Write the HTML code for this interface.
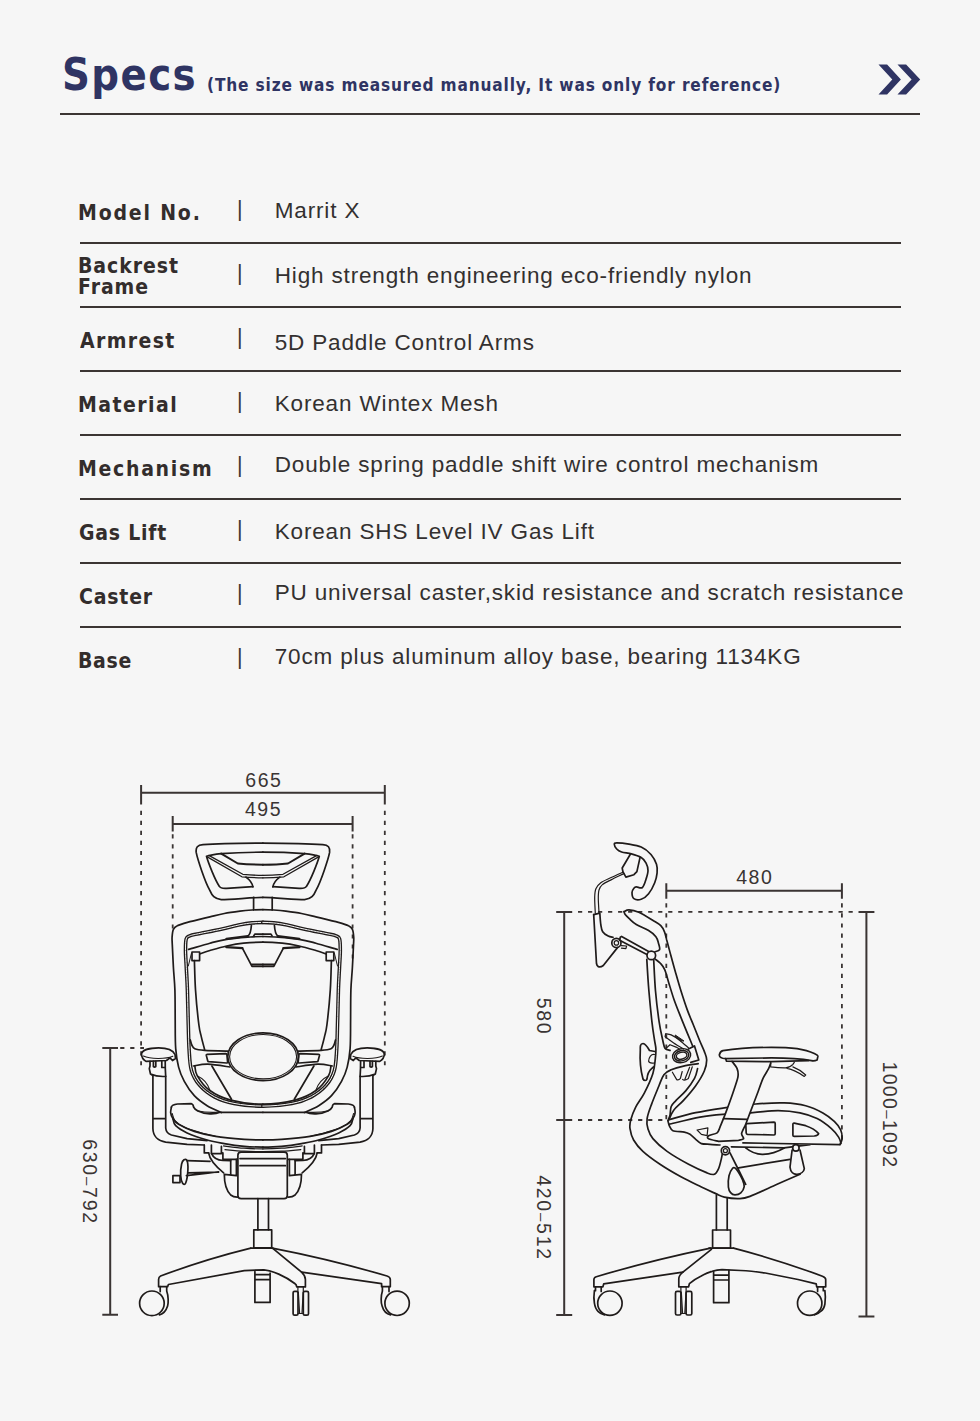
<!DOCTYPE html>
<html lang="en">
<head>
<meta charset="utf-8">
<title>Specs</title>
<style>
html,body{margin:0;padding:0;}
body{width:980px;height:1421px;background:#f6f6f6;position:relative;overflow:hidden;font-family:"Liberation Sans",sans-serif;color:#2e2a29;}
.abs{position:absolute;white-space:nowrap;line-height:1;}
#title{left:62px;top:52.5px;font-family:"DejaVu Sans","Liberation Sans",sans-serif;font-weight:bold;font-size:44.6px;color:#2f3463;letter-spacing:1.6px;transform:scaleX(.87);transform-origin:0 0;}
#sub{left:207px;top:76.6px;font-family:"DejaVu Sans","Liberation Sans",sans-serif;font-weight:bold;font-size:17.5px;color:#2f3463;letter-spacing:0.96px;transform:scaleX(.88);transform-origin:0 0;}
.hr{position:absolute;left:80px;width:821px;height:2px;background:#3b3533;}
#hline{position:absolute;left:60px;width:860.3px;top:113.2px;height:1.9px;background:#3b3533;}
.lab{font-family:"DejaVu Sans","Liberation Sans",sans-serif;font-weight:bold;font-size:21.5px;left:78px;color:#332d2c;transform:scaleX(.88);transform-origin:0 0;}
.val{font-size:22.5px;left:274.7px;letter-spacing:0.85px;color:#333030;}
.sep{position:absolute;left:237px;font-size:21.4px;line-height:1;color:#3b3533;}
</style>
</head>
<body>
<div id="title" class="abs">Specs</div>
<div id="sub" class="abs">(The size was measured manually, It was only for reference)</div>
<svg class="abs" style="left:870px;top:56px" width="60" height="48" viewBox="870 56 60 48"><path d="M878.5 64.5h8.6l13.8 15-13.8 15h-8.6l13.8-15zM897.5 64.5h8.6l14.1 15-14.1 15h-8.6l14.1-15z" fill="#2f3463"/></svg>
<div id="hline"></div>

<div class="abs lab" style="top:201.61px;letter-spacing:2.07px">Model No.</div>
<div class="sep" style="top:199.1px">|</div>
<div class="abs val" style="top:199.55px">Marrit X</div>
<div class="hr" style="top:241.9px"></div>

<div class="abs lab" style="top:254.81px;letter-spacing:1.05px;line-height:21.8px;margin-top:-0.15px">Backrest<br>Frame</div>
<div class="sep" style="top:263.1px">|</div>
<div class="abs val" style="top:265.35px">High strength engineering eco-friendly nylon</div>
<div class="hr" style="top:305.9px"></div>

<div class="abs lab" style="top:329.61px;letter-spacing:1.55px;margin-left:2px">Armrest</div>
<div class="sep" style="top:327.1px">|</div>
<div class="abs val" style="top:332.35px">5D Paddle Control Arms</div>
<div class="hr" style="top:369.9px"></div>

<div class="abs lab" style="top:393.61px;letter-spacing:1.65px">Material</div>
<div class="sep" style="top:391.1px">|</div>
<div class="abs val" style="top:393.45px">Korean Wintex Mesh</div>
<div class="hr" style="top:433.9px"></div>

<div class="abs lab" style="top:457.61px;letter-spacing:1.93px">Mechanism</div>
<div class="sep" style="top:455.1px">|</div>
<div class="abs val" style="top:454.45px">Double spring paddle shift wire control mechanism</div>
<div class="hr" style="top:497.9px"></div>

<div class="abs lab" style="top:521.61px;letter-spacing:0.85px;margin-left:1px">Gas Lift</div>
<div class="sep" style="top:519.1px">|</div>
<div class="abs val" style="top:521.35px">Korean SHS Level IV Gas Lift</div>
<div class="hr" style="top:561.9px"></div>

<div class="abs lab" style="top:585.61px;letter-spacing:0.92px;margin-left:1.2px">Caster</div>
<div class="sep" style="top:583.1px">|</div>
<div class="abs val" style="top:582.45px">PU universal caster,skid resistance and scratch resistance</div>
<div class="hr" style="top:625.9px"></div>

<div class="abs lab" style="top:649.61px;letter-spacing:0.80px">Base</div>
<div class="sep" style="top:647.1px">|</div>
<div class="abs val" style="top:646.45px">70cm plus aluminum alloy base, bearing 1134KG</div>

<svg id="draw" class="abs" style="left:0;top:740px" width="980" height="640" viewBox="0 740 980 640" fill="none" stroke="#1f1b1a" stroke-width="1.7" stroke-linecap="round" stroke-linejoin="round">
<g id="dims" stroke="#3a3433" stroke-width="2" stroke-linecap="butt">
<path d="M141 792.8H384.8M141.1 784.9V804.6M384.8 784.9V804.6M172.7 824H352.6M172.7 816.1V831.4M352.6 816.1V831.4"/>
<path d="M110.2 1048V1314.8M102.3 1048H118M102.3 1314.8H118"/>
<path d="M564.2 912V1315M556.2 911.9H572.2M556.2 1120H572.2M556.2 1315H572.2"/>
<path d="M866.4 912V1316.4M858.5 911.9H874.4M858.5 1316.4H874.4"/>
<path d="M666.3 890.7H841.9M666.3 883.3V898.7M841.9 883.3V898.7"/>
<g stroke-width="1.8" stroke-dasharray="4.2 5.82">
<path d="M141.1 810.8V1065.2M384.8 810.8V1065.2M172.7 834.2V928.6M352.6 834.2V958.6"/>
<path d="M120.2 1048H144"/>
<path d="M578 911.9H858M578 1120H668"/>
<path stroke-dasharray="4.2 5.89" d="M666.3 903.2V1120M841.9 903.2V1139.6"/>
</g>
</g>
<g id="dimtext" stroke="none" fill="#3a3433" font-family="Liberation Sans, sans-serif" font-size="19.5" letter-spacing="1.6" text-anchor="middle">
<text x="263.9" y="786.6">665</text>
<text x="263.6" y="816">495</text>
<text x="754.8" y="883.5">480</text>
<text transform="translate(83 1182) rotate(90)" letter-spacing="1.75">630<tspan font-size="15">–</tspan>792</text>
<text transform="translate(536.5 1016.5) rotate(90)">580</text>
<text transform="translate(536.5 1218) rotate(90)" letter-spacing="1.75">420<tspan font-size="15">–</tspan>512</text>
<text transform="translate(882.5 1115) rotate(90)" letter-spacing="1.3">1000<tspan font-size="15">–</tspan>1092</text>
</g>
<g id="front">
<g>
<path d="M263 843.1C245 843.2 215 843.8 203 844.6C197.5 845 195.6 847.5 196.2 852.4C197.5 859 205 882 209.7 890.1C212 895.5 214.5 899.2 221.2 899.6C232 899.6 250 897.6 263 897.4"/>
<path d="M263 852.2C250 852.2 230 853 221.2 853.6C215 854.2 210 855 206.5 856.3C208 862 215 880 219.4 886.4C220.5 888.2 222 888.6 226.7 888.3L252.9 886.7"/>
<path d="M206.8 856.6L241.9 876.8C250 877.6 256 877.8 263 877.8M208.8 855.4L242.8 874.3C250 875 256 875.4 263 875.4" stroke-width="1.3"/>
<path d="M221.2 853.6L237.8 863.5C246 864.4 255 864.7 263 864.7" stroke-width="2"/>
<path d="M246 877.1C250 880 252.3 883 252.9 886.9M253.6 897.4V909.9"/>
<path d="M263 909.6C259.4 909.6 255.8 909.7 252 910C248.2 910.3 244.6 910.6 240 911.2C235.4 911.8 229.3 912.6 224.3 913.5C219.3 914.4 216.1 915.3 209.9 916.8C203.8 918.3 192.8 920.9 187.4 922.4C182 923.9 179.6 924.6 177.3 925.8C175 926.9 174.3 927.4 173.4 929.3C172.5 931.2 172.3 934.4 172.1 937C171.9 939.6 172.1 939.9 172.3 944.9C172.5 949.9 173 959.8 173.4 967.3C173.8 974.8 174.6 981 174.9 989.8C175.2 998.6 175.1 1010.2 175.2 1020C175.3 1029.8 175.1 1040.8 175.7 1048.6C176.3 1056.4 177.2 1061.6 178.6 1067.1C180 1072.6 181.7 1076.6 184.3 1081.4C186.9 1086.2 190.5 1091.7 194.3 1095.7C198.1 1099.8 202.6 1102.9 207.1 1105.7C211.6 1108.5 219 1111.4 221.4 1112.5"/>
<path d="M263 922.4C259.4 922.4 255.8 922.5 252 922.9C248.2 923.3 245.2 923.7 240 924.7C234.8 925.8 228 927.7 221.1 929.2C214.2 930.7 203.9 932.6 198.7 933.7C193.5 934.8 191.8 935 189.7 935.9C187.6 936.8 186.9 936.6 186.2 939C185.5 941.4 185.5 945.8 185.5 950.5C185.5 955.2 186 960.8 186.3 967.3C186.6 973.8 187.1 980.2 187.4 989.8C187.7 999.4 188 1015 188.3 1025C188.6 1035 188.6 1041.9 189.1 1049.5C189.6 1057.1 189.7 1064.7 191.5 1070.7C193.3 1076.7 195.9 1081.1 199.7 1085.4C203.5 1089.8 208.7 1093.8 214.4 1096.8C220.1 1099.8 225.9 1101.9 234 1103.4C242.1 1105 253.4 1106.1 263 1106.1" stroke-width="3.6"/>
<path d="M263 922.4C259.4 922.4 255.8 922.5 252 922.9C248.2 923.3 245.2 923.7 240 924.7C234.8 925.8 228 927.7 221.1 929.2C214.2 930.7 203.9 932.6 198.7 933.7C193.5 934.8 191.8 935 189.7 935.9C187.6 936.8 186.9 936.6 186.2 939C185.5 941.4 185.5 945.8 185.5 950.5C185.5 955.2 186 960.8 186.3 967.3C186.6 973.8 187.1 980.2 187.4 989.8C187.7 999.4 188 1015 188.3 1025C188.6 1035 188.6 1041.9 189.1 1049.5C189.6 1057.1 189.7 1064.7 191.5 1070.7C193.3 1076.7 195.9 1081.1 199.7 1085.4C203.5 1089.8 208.7 1093.8 214.4 1096.8C220.1 1099.8 225.9 1101.9 234 1103.4C242.1 1105 253.4 1106.1 263 1106.1" stroke-width="1.0" stroke="#f6f6f6"/>
<path d="M188.6 949.4C192.2 948.4 203.6 944.9 209.9 943.2C216.2 941.5 220 940.3 226.7 939.3C233.4 938.3 244.2 937.5 250.3 937C256.4 936.5 258.8 936.5 263 936.5"/>
<path d="M199.8 953.9C201.5 953.3 205.4 951.8 209.9 950.5C214.4 949.2 221.1 947.2 226.7 946C232.3 944.8 237.5 943.8 243.6 943.2C249.7 942.6 256.6 942.2 263 942.2"/>
<rect x="192" y="952" width="7.6" height="8.6"/>
<path d="M194.4 960.6C194.6 965.5 194.8 979.1 195.5 989.8C196.2 1000.5 197.9 1017.1 198.9 1025C199.9 1032.9 200.5 1033 201.4 1037.1C202.3 1041.2 204.1 1047.4 204.6 1049.5"/>
<path d="M191.5 953L188.3 966" stroke-width="1"/>
<path d="M226.2 947.1L242.4 948.2" stroke-width="2.2"/>
<path d="M242.4 948.2L252 966.4H263M251 964.4H263"/>
<path d="M251.4 925.3C251 931 250 934.5 248.1 935.9M253.7 935.9L254.8 934.2H263"/>
<path d="M226.4 938.9L248 936" stroke-width="2.2"/>
<path d="M190.3 1040C190.6 1040.8 191.1 1043.5 191.8 1045C192.6 1046.5 192.7 1047.8 194.8 1048.7C196.9 1049.6 199.1 1049.9 204.6 1050.3C210.1 1050.7 223.8 1051 227.7 1051.1"/>
<path d="M193.5 1066C195.9 1065.7 201.8 1064 207.9 1064.2C214 1064.4 226.2 1066.5 229.8 1067"/>
<path d="M207 1054.4L225.8 1053.6Q226.8 1053.6 226.9 1054.6L227.6 1062Q227.7 1063 226.6 1063L208.8 1061.7Q207.9 1061.6 207.7 1060.7L206.3 1055.4Q206.1 1054.4 207 1054.4Z"/>
<path d="M211.9 1066L231.5 1099.3"/>
<path d="M194.8 1065.8C195.2 1067.4 194.8 1071.5 197.2 1075.6C199.6 1079.7 203.9 1086.2 209.5 1090.3C215.1 1094.4 221.8 1097.8 230.7 1100.1C239.6 1102.4 252.3 1104.2 263 1104.2"/>
<path d="M197.5 1076C203 1078.5 208 1084 210 1090.5" stroke-width="1.1"/>
<path d="M141.5 1054C142 1050 150 1048 158.6 1047.9C167 1047.9 173 1050 175 1054.5L175.5 1058.5L172.5 1060.5L170 1057.8L166.5 1060.5L146 1061.4C143 1059.5 141.5 1057 141.5 1054Z"/>
<path d="M143.4 1056C150 1059.2 166 1059.2 172.8 1056.3" stroke-width="1.1"/>
<path d="M150 1061.4V1066L149.3 1068.6L150.5 1074L152.9 1075.5M165.2 1060.8L165.3 1068.6L165.7 1076.4M150.5 1074C155 1076 160 1076.8 165.7 1076.4M153.4 1061.4V1066.5Q154.6 1067.6 155.8 1066.5V1061.4M161.8 1061.2V1067.5H164.2"/>
<path d="M152.9 1075.5V1128.6C153 1136 158 1141 165.7 1142.1L187.1 1144.3L204.3 1145M165.7 1076.4V1128C166 1131.5 168.5 1134 171.4 1135L187.1 1138.6L207.1 1140.7M152.9 1118.6H165.7"/>
<path d="M263 1112.3H220.1C215 1114.6 205 1114.6 198 1111C195 1109.5 194 1108 193.6 1107.1C193.3 1105 192.5 1104 191.4 1103.7L177.5 1104C173.5 1104.5 171.6 1106 171.4 1107.1"/>
<path d="M171.4 1107.1C171.3 1108.1 170.4 1111 170.7 1112.9C170.9 1114.8 171.6 1116.7 172.9 1118.6C174.2 1120.5 175 1122.2 178.6 1124.3C182.2 1126.4 188.1 1129.4 194.3 1131.4C200.5 1133.4 207.4 1135.1 215.7 1136.4C224 1137.7 236.4 1138.7 244.3 1139.3C252.2 1139.9 256.8 1139.9 263 1139.9"/>
<path d="M172.9 1118.6C173.4 1119.8 173.3 1123.3 175.7 1125.7C178.1 1128.1 181.9 1130.5 187.1 1132.9C192.3 1135.3 200.9 1138.2 207.1 1140C213.3 1141.8 218.1 1142.5 224.3 1143.6C230.5 1144.7 237.9 1145.8 244.3 1146.4C250.8 1147 256.8 1147.1 263 1147.1"/>
<path d="M223.6 1145.9C227 1146.3 237.4 1147.7 244 1148.2C250.6 1148.7 256.7 1148.9 263 1148.9" stroke-width="1.2"/>
<path d="M225 1149.6C228.2 1149.9 237.7 1150.9 244 1151.2C250.3 1151.5 256.7 1151.6 263 1151.6" stroke-width="1.2"/>
<path d="M197.1 1110.7C203 1112 212 1112.6 218.6 1112.1" stroke-width="1.1"/>
<path d="M172.2 1113.5C172.7 1114.7 173 1118.2 175 1120.5C177 1122.8 179.8 1125 184 1127C188.2 1129 194.7 1130.9 200 1132.5C205.3 1134.1 213.1 1135.8 215.7 1136.4" stroke-width="1.1"/>
<path d="M204.3 1145V1152.9H208.6M211.4 1145V1153.6H221.4V1146.3M222.9 1152.9V1159.3H237.5"/>
<path d="M208.6 1152.9C209.5 1159 214 1165 223.6 1172.9M211.6 1153.6C213 1157 216.4 1160 222.9 1160.5L230.7 1160.7"/>
<path d="M230.7 1160.7V1174.3M236.4 1159.3V1175.7M224.3 1174.3L236.4 1175.7M224.3 1174.3C224.3 1182 225.7 1190 230.7 1195C233 1196.8 235.5 1197.2 237.7 1197.1"/>
</g>
<g transform="matrix(-1 0 0 1 525.8 0)">
<path d="M263 843.1C245 843.2 215 843.8 203 844.6C197.5 845 195.6 847.5 196.2 852.4C197.5 859 205 882 209.7 890.1C212 895.5 214.5 899.2 221.2 899.6C232 899.6 250 897.6 263 897.4"/>
<path d="M263 852.2C250 852.2 230 853 221.2 853.6C215 854.2 210 855 206.5 856.3C208 862 215 880 219.4 886.4C220.5 888.2 222 888.6 226.7 888.3L252.9 886.7"/>
<path d="M206.8 856.6L241.9 876.8C250 877.6 256 877.8 263 877.8M208.8 855.4L242.8 874.3C250 875 256 875.4 263 875.4" stroke-width="1.3"/>
<path d="M221.2 853.6L237.8 863.5C246 864.4 255 864.7 263 864.7" stroke-width="2"/>
<path d="M246 877.1C250 880 252.3 883 252.9 886.9M253.6 897.4V909.9"/>
<path d="M263 909.6C259.4 909.6 255.8 909.7 252 910C248.2 910.3 244.6 910.6 240 911.2C235.4 911.8 229.3 912.6 224.3 913.5C219.3 914.4 216.1 915.3 209.9 916.8C203.8 918.3 192.8 920.9 187.4 922.4C182 923.9 179.6 924.6 177.3 925.8C175 926.9 174.3 927.4 173.4 929.3C172.5 931.2 172.3 934.4 172.1 937C171.9 939.6 172.1 939.9 172.3 944.9C172.5 949.9 173 959.8 173.4 967.3C173.8 974.8 174.6 981 174.9 989.8C175.2 998.6 175.1 1010.2 175.2 1020C175.3 1029.8 175.1 1040.8 175.7 1048.6C176.3 1056.4 177.2 1061.6 178.6 1067.1C180 1072.6 181.7 1076.6 184.3 1081.4C186.9 1086.2 190.5 1091.7 194.3 1095.7C198.1 1099.8 202.6 1102.9 207.1 1105.7C211.6 1108.5 219 1111.4 221.4 1112.5"/>
<path d="M263 922.4C259.4 922.4 255.8 922.5 252 922.9C248.2 923.3 245.2 923.7 240 924.7C234.8 925.8 228 927.7 221.1 929.2C214.2 930.7 203.9 932.6 198.7 933.7C193.5 934.8 191.8 935 189.7 935.9C187.6 936.8 186.9 936.6 186.2 939C185.5 941.4 185.5 945.8 185.5 950.5C185.5 955.2 186 960.8 186.3 967.3C186.6 973.8 187.1 980.2 187.4 989.8C187.7 999.4 188 1015 188.3 1025C188.6 1035 188.6 1041.9 189.1 1049.5C189.6 1057.1 189.7 1064.7 191.5 1070.7C193.3 1076.7 195.9 1081.1 199.7 1085.4C203.5 1089.8 208.7 1093.8 214.4 1096.8C220.1 1099.8 225.9 1101.9 234 1103.4C242.1 1105 253.4 1106.1 263 1106.1" stroke-width="3.6"/>
<path d="M263 922.4C259.4 922.4 255.8 922.5 252 922.9C248.2 923.3 245.2 923.7 240 924.7C234.8 925.8 228 927.7 221.1 929.2C214.2 930.7 203.9 932.6 198.7 933.7C193.5 934.8 191.8 935 189.7 935.9C187.6 936.8 186.9 936.6 186.2 939C185.5 941.4 185.5 945.8 185.5 950.5C185.5 955.2 186 960.8 186.3 967.3C186.6 973.8 187.1 980.2 187.4 989.8C187.7 999.4 188 1015 188.3 1025C188.6 1035 188.6 1041.9 189.1 1049.5C189.6 1057.1 189.7 1064.7 191.5 1070.7C193.3 1076.7 195.9 1081.1 199.7 1085.4C203.5 1089.8 208.7 1093.8 214.4 1096.8C220.1 1099.8 225.9 1101.9 234 1103.4C242.1 1105 253.4 1106.1 263 1106.1" stroke-width="1.0" stroke="#f6f6f6"/>
<path d="M188.6 949.4C192.2 948.4 203.6 944.9 209.9 943.2C216.2 941.5 220 940.3 226.7 939.3C233.4 938.3 244.2 937.5 250.3 937C256.4 936.5 258.8 936.5 263 936.5"/>
<path d="M199.8 953.9C201.5 953.3 205.4 951.8 209.9 950.5C214.4 949.2 221.1 947.2 226.7 946C232.3 944.8 237.5 943.8 243.6 943.2C249.7 942.6 256.6 942.2 263 942.2"/>
<rect x="192" y="952" width="7.6" height="8.6"/>
<path d="M194.4 960.6C194.6 965.5 194.8 979.1 195.5 989.8C196.2 1000.5 197.9 1017.1 198.9 1025C199.9 1032.9 200.5 1033 201.4 1037.1C202.3 1041.2 204.1 1047.4 204.6 1049.5"/>
<path d="M191.5 953L188.3 966" stroke-width="1"/>
<path d="M226.2 947.1L242.4 948.2" stroke-width="2.2"/>
<path d="M242.4 948.2L252 966.4H263M251 964.4H263"/>
<path d="M251.4 925.3C251 931 250 934.5 248.1 935.9M253.7 935.9L254.8 934.2H263"/>
<path d="M226.4 938.9L248 936" stroke-width="2.2"/>
<path d="M190.3 1040C190.6 1040.8 191.1 1043.5 191.8 1045C192.6 1046.5 192.7 1047.8 194.8 1048.7C196.9 1049.6 199.1 1049.9 204.6 1050.3C210.1 1050.7 223.8 1051 227.7 1051.1"/>
<path d="M193.5 1066C195.9 1065.7 201.8 1064 207.9 1064.2C214 1064.4 226.2 1066.5 229.8 1067"/>
<path d="M207 1054.4L225.8 1053.6Q226.8 1053.6 226.9 1054.6L227.6 1062Q227.7 1063 226.6 1063L208.8 1061.7Q207.9 1061.6 207.7 1060.7L206.3 1055.4Q206.1 1054.4 207 1054.4Z"/>
<path d="M211.9 1066L231.5 1099.3"/>
<path d="M194.8 1065.8C195.2 1067.4 194.8 1071.5 197.2 1075.6C199.6 1079.7 203.9 1086.2 209.5 1090.3C215.1 1094.4 221.8 1097.8 230.7 1100.1C239.6 1102.4 252.3 1104.2 263 1104.2"/>
<path d="M197.5 1076C203 1078.5 208 1084 210 1090.5" stroke-width="1.1"/>
<path d="M141.5 1054C142 1050 150 1048 158.6 1047.9C167 1047.9 173 1050 175 1054.5L175.5 1058.5L172.5 1060.5L170 1057.8L166.5 1060.5L146 1061.4C143 1059.5 141.5 1057 141.5 1054Z"/>
<path d="M143.4 1056C150 1059.2 166 1059.2 172.8 1056.3" stroke-width="1.1"/>
<path d="M150 1061.4V1066L149.3 1068.6L150.5 1074L152.9 1075.5M165.2 1060.8L165.3 1068.6L165.7 1076.4M150.5 1074C155 1076 160 1076.8 165.7 1076.4M153.4 1061.4V1066.5Q154.6 1067.6 155.8 1066.5V1061.4M161.8 1061.2V1067.5H164.2"/>
<path d="M152.9 1075.5V1128.6C153 1136 158 1141 165.7 1142.1L187.1 1144.3L204.3 1145M165.7 1076.4V1128C166 1131.5 168.5 1134 171.4 1135L187.1 1138.6L207.1 1140.7M152.9 1118.6H165.7"/>
<path d="M263 1112.3H220.1C215 1114.6 205 1114.6 198 1111C195 1109.5 194 1108 193.6 1107.1C193.3 1105 192.5 1104 191.4 1103.7L177.5 1104C173.5 1104.5 171.6 1106 171.4 1107.1"/>
<path d="M171.4 1107.1C171.3 1108.1 170.4 1111 170.7 1112.9C170.9 1114.8 171.6 1116.7 172.9 1118.6C174.2 1120.5 175 1122.2 178.6 1124.3C182.2 1126.4 188.1 1129.4 194.3 1131.4C200.5 1133.4 207.4 1135.1 215.7 1136.4C224 1137.7 236.4 1138.7 244.3 1139.3C252.2 1139.9 256.8 1139.9 263 1139.9"/>
<path d="M172.9 1118.6C173.4 1119.8 173.3 1123.3 175.7 1125.7C178.1 1128.1 181.9 1130.5 187.1 1132.9C192.3 1135.3 200.9 1138.2 207.1 1140C213.3 1141.8 218.1 1142.5 224.3 1143.6C230.5 1144.7 237.9 1145.8 244.3 1146.4C250.8 1147 256.8 1147.1 263 1147.1"/>
<path d="M223.6 1145.9C227 1146.3 237.4 1147.7 244 1148.2C250.6 1148.7 256.7 1148.9 263 1148.9" stroke-width="1.2"/>
<path d="M225 1149.6C228.2 1149.9 237.7 1150.9 244 1151.2C250.3 1151.5 256.7 1151.6 263 1151.6" stroke-width="1.2"/>
<path d="M197.1 1110.7C203 1112 212 1112.6 218.6 1112.1" stroke-width="1.1"/>
<path d="M172.2 1113.5C172.7 1114.7 173 1118.2 175 1120.5C177 1122.8 179.8 1125 184 1127C188.2 1129 194.7 1130.9 200 1132.5C205.3 1134.1 213.1 1135.8 215.7 1136.4" stroke-width="1.1"/>
<path d="M204.3 1145V1152.9H208.6M211.4 1145V1153.6H221.4V1146.3M222.9 1152.9V1159.3H237.5"/>
<path d="M208.6 1152.9C209.5 1159 214 1165 223.6 1172.9M211.6 1153.6C213 1157 216.4 1160 222.9 1160.5L230.7 1160.7"/>
<path d="M230.7 1160.7V1174.3M236.4 1159.3V1175.7M224.3 1174.3L236.4 1175.7M224.3 1174.3C224.3 1182 225.7 1190 230.7 1195C233 1196.8 235.5 1197.2 237.7 1197.1"/>
</g>
<ellipse cx="263.1" cy="1056.7" rx="35.3" ry="23.9"/><ellipse cx="263.1" cy="1056.7" rx="33.5" ry="22.2" stroke-width="1.1"/>
<rect x="237.9" y="1152.1" width="49.4" height="46.5" rx="3.2" fill="#f6f6f6"/>
<path d="M240 1158.6H285.4M240 1165.7H285.4"/>
<path d="M257.9 1198.6V1229.8M268.5 1198.6V1229.8"/>
<rect x="253.8" y="1229.8" width="17.9" height="18"/>
<path d="M254.9 1271.6V1302.4H270.1V1273M254.9 1274.7H270.1M254.9 1279.6H270.1"/>
<path d="M250.8 1248.1H272.9"/>
<path d="M250.8 1248.1Q204.8 1259.4 160.6 1276C159 1276.8 158.6 1278 158.6 1279.5V1286.7H167.6L168.4 1284.5L244.3 1270.6L263.9 1269.8C272 1270.5 285 1276 295.1 1283.7C296.2 1284.5 296.6 1285.5 296.7 1286.9H305.4V1279.5C305.4 1276.5 304 1274.5 301.6 1272.2L273.1 1248.6"/>
<path d="M272.2 1248.1Q330.6 1259.4 387 1276C389.6 1276.8 390.3 1278 390.3 1279.5V1286.7H381.6V1283.7L301.6 1272.2"/>
<circle cx="151.9" cy="1303.3" r="12.3"/><circle cx="397.1" cy="1303.3" r="12.2"/>
<path d="M160.2 1286.7V1291.6M166.7 1286.7V1291C168.5 1296 168.5 1303 167.6 1306C166 1311 163 1314 159.4 1314.9"/>
<path d="M389 1286.7V1291.6M382.4 1286.7V1291C380.8 1296 380.8 1303 382.1 1306C383.5 1311 386.5 1314 390.6 1314.9"/>
<rect x="293.1" y="1291.3" width="4.9" height="23.9" rx="1.5"/><rect x="303.3" y="1291.3" width="5.2" height="23.9" rx="1.5"/>
<path d="M297.9 1287V1291.3M303.3 1287V1291.3M298.3 1292L299.6 1313.5M303.2 1292L302 1313.5M298 1313.5H303.3" stroke-width="1.2"/>
<path d="M184 1159.8C183.1 1160.4 182.2 1161.3 181.6 1164C181 1166.7 180.5 1172.5 180.7 1175.7C180.9 1178.9 181.8 1182.1 182.6 1183.3C183.4 1184.5 184.8 1185.2 185.7 1183C186.6 1180.8 187.7 1173.8 187.9 1170C188.1 1166.2 187.7 1162.2 187 1160.5C186.3 1158.8 184.9 1159.2 184 1159.8Z"/>
<path d="M187.1 1160.7L210 1161.4M186.4 1175.7L218.6 1171.8M187.8 1172.9L218.6 1172.1"/>
<rect x="172.9" y="1175.7" width="7.1" height="6.9"/>
</g>
<g id="side">
<path d="M614.3 844.3C614.3 843.3 614.2 842.9 616.7 842.9C619.2 842.9 624.9 843.4 629 844.1C633.1 844.8 637.5 845.4 641.2 847.1C644.9 848.8 648.5 851.6 651 854.5C653.5 857.4 655.5 861.2 656.5 864.3C657.5 867.4 657.4 869.8 657.1 872.9C656.8 876 656.1 879.2 654.7 882.7C653.3 886.2 650.9 891 648.6 893.7C646.4 896.5 643.7 898.4 641.2 899.2C638.8 900 635.4 899.7 633.9 898.6C632.4 897.5 632 894.1 632 892.4C632 890.7 633.2 889.1 633.9 888.2C634.6 887.3 634.9 887 636.3 886.9C637.7 886.8 640.8 888.8 642.4 887.5C644 886.2 645.2 881.9 646.1 879C647 876.1 648 873 648 870.4C648 867.8 647.2 865.2 646.1 863.1C645 861 643.7 859.1 641.2 857.6C638.8 856.1 634.7 854.8 631.4 853.9C628.1 853 624 852.8 621.6 852C619.2 851.2 617.9 850.3 616.7 849C615.5 847.7 614.3 845.3 614.3 844.3Z"/>
<path d="M630.2 854.5L622.2 868L622.9 871.6L625.9 877.1L633.9 874.7L636.9 871.6L640 857.6"/>
<path d="M622.9 872.2C620.9 873.1 614.3 876 610.6 877.8C606.9 879.5 603.2 880.9 600.8 882.7C598.3 884.5 596.9 886.4 595.9 888.8C594.9 891.2 594.8 893.2 594.7 897.3C594.6 901.4 595.2 910.6 595.3 913.3" stroke-width="1.2"/>
<path d="M623.8 873.6C621.8 874.6 615.1 877.8 611.5 879.6C607.9 881.4 604.5 882.9 602.4 884.6C600.3 886.3 599.7 887.7 599 890C598.3 892.3 598.3 894.9 598.3 898.6C598.3 902.4 598.9 910.2 599 912.5" stroke-width="1.2"/>
<path d="M593.7 914.7L599.8 913.2C600 915.1 600.3 921.4 600.8 924.5C601.3 927.6 601.5 929.9 602.7 931.8C603.9 933.7 606.5 935.2 608.2 936.1C609.9 937 612.2 937.1 613 937.3"/>
<path d="M617.5 947.6L603.3 965.5C601.5 966.8 599.8 967.2 598.4 966.7C597 965.7 596.6 964.8 596.5 963.7L593.7 914.7"/>
<circle cx="616.4" cy="942.9" r="4.6"/><circle cx="616.4" cy="942.9" r="2.2" stroke-width="1.2"/>
<path d="M621.4 945.7L626.6 946L625.9 948.6L621.5 948.2" stroke-width="1.2"/>
<path d="M620.3 937.2L621.6 936.4L648.6 951.4M619.6 940.2L646.9 954.6M620.3 937.2L619.6 940.2"/>
<path d="M624.1 911.6C624.9 911.3 626.5 909.7 629 909.8C631.5 909.9 634.7 910.4 638.8 912.2C642.9 914 649.8 918.5 653.5 920.8C657.2 923 659 923.9 660.8 925.7C662.6 927.5 663.5 929.4 664.5 931.8C665.5 934.2 665.7 936.1 666.7 940C667.8 943.9 669.3 949.7 670.8 955.3C672.3 960.9 674.2 967.8 675.9 973.7C677.6 979.7 679.1 985 681 991C682.9 997 685.1 1003.8 687.1 1009.4C689.1 1015 691.2 1019.6 693.3 1024.7C695.3 1029.8 697.6 1035.5 699.4 1040C701.2 1044.5 703.1 1048.1 704.3 1051.4C705.5 1054.7 706.7 1056.7 706.7 1060C706.7 1063.3 706.1 1066.7 704.3 1071C702.5 1075.3 699.2 1080.8 695.7 1085.7C692.2 1090.6 687.2 1096.3 683.5 1100.4C679.8 1104.5 676.2 1106.9 673.7 1110.2C671.2 1113.5 669.6 1118.4 668.8 1120"/>
<path d="M624.1 911.6C624.3 912.1 624.4 913.4 625.2 914.5C626 915.6 627.1 916.7 629 918.4C630.9 920.1 633 922.5 636.3 924.5C639.6 926.5 645.3 928.6 648.6 930.6C651.9 932.6 654.3 934.7 655.9 936.7C657.5 938.8 657.8 940.8 658.4 942.9C659 945 660.2 948.1 659.6 949.6C659 951.1 655.6 951.5 654.8 951.9"/>
<path d="M655 958.9C655.9 959.7 659 961.7 660.6 963.5C662.2 965.3 663.3 966.4 664.7 969.6C666.1 972.8 667.3 978 668.8 982.9C670.3 987.8 671.9 993.4 673.9 999.2C675.9 1005 678.3 1010.8 681 1017.6C683.7 1024.4 688.2 1035.2 690.2 1040C692.2 1044.8 692.4 1045.3 692.8 1046.4"/>
<path d="M697.6 1068.6C697.1 1070.2 696.5 1074.7 694.5 1078.4C692.5 1082.1 689 1086.9 685.9 1090.6C682.8 1094.3 678.5 1097.8 676.1 1100.4C673.7 1103.1 672.2 1104 671.2 1106.5C670.2 1109 670.5 1112.8 670 1115.1C669.5 1117.4 668.3 1119.6 668 1120.5"/>
<path d="M646.8 959.4C647.1 964.7 648 980.6 648.9 991C649.8 1001.4 651 1013.4 651.9 1021.6C652.8 1029.8 653.8 1035.4 654.5 1040C655.2 1044.6 655.8 1045.9 655.9 1049C656 1052.1 655.8 1054.7 655.3 1058.8C654.8 1062.9 654.7 1067.8 652.9 1073.5C651.1 1079.2 647.2 1087.5 644.3 1093.1C641.4 1098.7 638 1102.6 635.7 1107.1C633.4 1111.6 631.7 1116.4 630.7 1120C629.8 1123.6 629.5 1125.3 630 1128.6C630.5 1131.9 631.5 1136.2 633.6 1140C635.8 1143.8 638.5 1147.4 642.9 1151.4C647.3 1155.5 653.6 1160 660 1164.3C666.4 1168.6 674.5 1173.3 681.4 1177.1C688.3 1180.9 695.7 1184.3 701.4 1187.1C707.1 1189.8 711.9 1191.9 715.7 1193.6C719.5 1195.3 720.5 1196.3 724.3 1197.1C728.1 1197.9 734.3 1198.7 738.6 1198.6C742.9 1198.5 743.6 1198.8 750 1196.4C756.4 1194 768.8 1188 777.1 1184.3C785.4 1180.6 796.2 1176 800 1174.3"/>
<path d="M653.7 959.9C654 965.1 654.6 980.7 655.5 991C656.4 1001.3 657.9 1013.4 659.1 1021.6C660.3 1029.8 661.7 1035.5 662.7 1040C663.7 1044.5 663.9 1046.7 665.1 1048.4C666.3 1050.1 669.2 1050.1 670 1050.4"/>
<path d="M698.2 1063.7C695.8 1064.1 688 1065.1 683.5 1066.1C679 1067.1 674.5 1068.4 671.2 1069.8C667.9 1071.2 665.9 1072 663.9 1074.7C661.9 1077.4 661 1080.8 659 1085.7C657 1090.6 653.6 1098.6 651.6 1104.1C649.6 1109.6 647.7 1114.5 647.1 1118.6C646.5 1122.7 646.9 1125.3 647.9 1128.6C648.9 1131.9 649.7 1134.8 652.9 1138.6C656.1 1142.4 661.1 1147.1 667.1 1151.4C673.1 1155.7 681.9 1160.7 688.6 1164.3C695.3 1167.9 702.8 1171.2 707.1 1172.9C711.4 1174.6 712.4 1175 714.3 1174.3C716.2 1173.6 717.4 1171.2 718.6 1168.6C719.8 1166 720.8 1161 721.4 1158.6C722 1156.2 722.1 1154.8 722.3 1154"/>
<circle cx="651.3" cy="955.4" r="4.3" fill="#f6f6f6"/>
<path d="M655 1051.5L649.5 1050.5C647.5 1047 646 1044 643 1043.5C640 1043.5 640.2 1047 640.3 1050C639.8 1058 640.5 1070 643 1079C644 1081 646.5 1081 647 1079C647.3 1075 648 1071.5 651.6 1068.6L653.5 1067"/>
<path d="M654.5 1054.5C651 1054 649 1057 648.6 1061.2C649 1063.5 651 1063.5 654.3 1063" stroke-width="1.2"/>
<path d="M688.4 1049L694.5 1045.9L698.8 1060L690.8 1062.4"/>
<g transform="rotate(-14 681.6 1055.7)" stroke-width="1.45"><ellipse cx="681.6" cy="1055.7" rx="9.2" ry="6.9" fill="#f6f6f6"/><ellipse cx="681.6" cy="1055.7" rx="7.3" ry="5.1"/><ellipse cx="681.6" cy="1055.7" rx="5.4" ry="3.4"/></g>
<path d="M665.7 1033.7C666.6 1033.9 668.9 1033.8 671.2 1034.9C673.6 1036 676.9 1038.2 679.8 1040.4C682.7 1042.6 687 1046.6 688.4 1047.8M665.1 1036.7C666.5 1037.7 670.6 1040.9 673.7 1042.9C676.8 1045 681.9 1048 683.5 1049M665.7 1033.7L665.1 1036.7" stroke-width="1.2"/>
<path d="M675.5 1035.2L684 1041L680.5 1040.8L675.8 1037.2Z" fill="#2a2625" stroke-width="1"/>
<path d="M665.7 1048.6L670 1044.7L676.1 1047.1L679 1048.8" stroke-width="1.2"/>
<path d="M672.4 1072.2L676.7 1079.6Q678.7 1080.6 680.4 1078.4L682.2 1071.5M682.6 1079.4Q684.5 1081.2 688.4 1078.4L692.3 1066.8M685 1079L689.6 1067.2" stroke-width="1.2"/>
<path d="M670 1119.4C674.3 1118.3 686.7 1114.6 695.7 1112.7C704.8 1110.8 714.3 1109.4 724.3 1107.9C734.3 1106.5 745.7 1104.8 755.7 1104C765.7 1103.2 776 1102.6 784.3 1102.9C792.6 1103.2 799.3 1104 805.7 1105.7C812.1 1107.4 818.1 1110.3 822.9 1112.9C827.7 1115.5 831.3 1118.6 834.3 1121.4C837.3 1124.2 839.4 1127.1 840.7 1130C842 1132.9 842.2 1136.2 842.1 1138.6C842 1141 840.4 1143.4 840 1144.4"/>
<path d="M669 1124.3C674.2 1123.1 691 1118.8 700 1117.1C709 1115.4 714.1 1115 722.9 1114.3C731.7 1113.5 743.7 1113.2 752.9 1112.6C762.1 1112 770.1 1110.7 778 1110.7C785.9 1110.8 793.5 1111.6 800 1112.9C806.5 1114.2 811.9 1116 817.1 1118.6C822.3 1121.2 827.8 1125.5 831.4 1128.6C835 1131.7 837 1134.6 838.6 1137.1C840.2 1139.6 840.6 1142.4 841 1143.5"/>
<path d="M742.9 1142.9L840 1144.6M731.4 1146.8L784 1147.9L810 1144.6"/>
<path d="M747 1123.6L774 1122.2Q775.2 1122.2 775.2 1123.4V1133.8Q775.2 1135 774 1135L747.5 1134.3Q746.3 1134.2 746.2 1133L745.8 1124.8Q745.8 1123.7 747 1123.6Z"/>
<path d="M792.9 1124.2Q792.9 1123 794.2 1123.2L805.7 1125.7C811 1127.5 816 1130.5 818.6 1133.6Q818.2 1135.6 814.3 1136L794.2 1136.4Q792.9 1136.4 792.9 1135.2Z"/>
<path d="M667.9 1120.7C668.1 1121.3 668.7 1124.5 669.3 1125.7C669.9 1126.9 671.1 1130 672.9 1130.7C674.6 1131.4 682.3 1131.7 684.3 1132.1C686.3 1132.5 688.7 1133.5 690 1134.3C691.3 1135.1 694.4 1138.2 695.7 1139.3C697 1140.4 699.7 1143 701.4 1143.6C703.1 1144.2 707.8 1144.1 710 1144.3C712.2 1144.5 718.8 1144.9 720 1145"/>
<path d="M697.1 1130L707.9 1127.9L707.1 1135.7L701.4 1134.3Z" stroke-width="1.2"/>
<path d="M732.1 1061.4C732.8 1062.4 736.3 1066.5 737.1 1068.6C737.9 1070.7 738.5 1073.9 737.9 1077.1C737.3 1080.3 734.5 1088.1 732.9 1092.9C731.3 1097.7 727.4 1108.3 725.7 1112.9C724 1117.5 721.1 1124.4 720 1127.1C718.9 1129.8 718.6 1131.8 717.1 1132.9C715.6 1134 709.8 1134.9 708.6 1135.7C707.4 1136.5 707 1137.8 708.3 1138.6C709.6 1139.4 717.2 1141 718.6 1141.4L738.6 1140.3C739.3 1140.1 743.2 1139.5 743.6 1138.6C744 1137.7 741.3 1135.4 741.6 1133.5C741.9 1131.6 744.6 1127 745.7 1124.3C746.8 1121.6 748.5 1116.9 750 1112.9C751.5 1108.9 755.4 1098.9 757.1 1094.3C758.8 1089.7 761.4 1082 762.9 1078.6C764.4 1075.2 767.6 1070.7 768.6 1068.6C769.6 1066.5 770.4 1063.7 770.7 1063" fill="#f6f6f6"/>
<path d="M723.6 1118.6L747.1 1119.3"/>
<path d="M719.3 1055C720 1052 721.5 1051 722.9 1050.7C735 1048.8 755 1047.4 771.4 1047.4C782 1047.4 792 1048 797.1 1048.6C806 1050 812 1052.5 814.3 1053.6C816.5 1054.6 818 1055.5 817.9 1056.4L817.1 1060C815 1061 813 1061 811.4 1060.7C800 1058.5 785 1057.9 771.4 1057.9L725.7 1058.6C722 1058.6 719.5 1057.5 719.3 1055Z" fill="#f6f6f6"/>
<path d="M725.7 1058.6L726.4 1061.1L771.4 1061.7L808.6 1060.7"/>
<path d="M770.7 1062.1V1066.9C776 1067.6 781 1068 785.7 1067.9C789 1067.2 791.5 1066 792.9 1064.3L794.3 1062.3M787.1 1068.3C791 1069 797.1 1071.4 804.3 1076.4L805.7 1075C802 1071.5 797 1068.5 792.9 1066.9" stroke-width="1.2"/>
<circle cx="725.4" cy="1150.7" r="4.1" fill="#f6f6f6"/><circle cx="725.4" cy="1150.7" r="2" stroke-width="1.2"/>
<path d="M745.7 1147.9C752 1153 757 1154.5 762.9 1154.3C770 1154 778 1151.5 784.3 1147.9M738.6 1167.9L790 1159.3M730 1152.9L738.6 1170L745.7 1184.3"/>
<path d="M732.6 1168.2C731.5 1169.5 729.7 1172.6 729 1175.7C728.3 1178.8 728.1 1184.3 728.4 1187.1C728.7 1189.9 729.5 1191.3 730.6 1192.6C731.7 1193.9 733.3 1194.8 735 1194.8C736.7 1194.8 739.3 1194.2 740.8 1192.8C742.3 1191.4 743.9 1188.7 744.2 1186.6C744.5 1184.5 743.6 1182.5 742.6 1180C741.6 1177.5 739.2 1173.6 738 1171.6C736.8 1169.6 736.3 1168.8 735.4 1168.2C734.5 1167.6 733.7 1167 732.6 1168.2Z"/>
<path d="M792.1 1150L790 1167.1C790.5 1172 793.5 1174.5 797.1 1174.3C801 1174 804 1171.5 804.3 1168.6L800 1150" fill="#f6f6f6"/>
<circle cx="795.9" cy="1147.9" r="3.2" fill="#f6f6f6"/>
<path d="M716.4 1195V1230M727.2 1198.4V1230"/>
<rect x="712.6" y="1230" width="17.9" height="18"/>
<path d="M713.6 1271.6V1302.7H728.9V1270.3M713.6 1275.1H728.9M713.6 1280H728.9"/>
<path d="M709 1248.2H733.5"/>
<path d="M710.6 1248.1Q652.6 1260 596.3 1276.7C594.5 1277.3 593.9 1278.3 593.9 1279.5V1286.8H602.9L603.7 1283.9L682.9 1272.1"/>
<path d="M711.4 1249.3L682.9 1272.1C680 1274.5 678.8 1276.5 678.8 1278.7V1286.8H688.6L689.4 1283.6C693 1280.5 697 1278 700.8 1276.2C705 1273.8 709 1272 712.2 1271.3C716 1270.2 719 1269.8 722 1269.7L740.8 1270.5C750 1271 758 1272 765.3 1273L798 1279.5L816.2 1283.9L816.7 1286.8H825.7V1279.5C825.7 1278 824.5 1277 822.4 1276.2Q778.5 1259.8 733.5 1248.1"/>
<circle cx="609.9" cy="1303.2" r="12.2"/><circle cx="809.7" cy="1303.2" r="12.2"/>
<path d="M595.5 1286.8V1290.7M601.2 1286.8V1291.4M594.4 1290.5C593.8 1295 593.8 1300 594.4 1303.2C595 1307 596 1309.5 598 1311.3C600 1313.3 602 1314.4 604.5 1314.9"/>
<path d="M823.3 1286.8V1290.7M817.6 1286.8V1291.4M824.9 1290.7C825.5 1295 825.5 1300 824.9 1304C824.3 1307.5 823 1309.8 820.8 1311.3C819 1313.3 817 1314.4 814.3 1314.9"/>
<rect x="675.5" y="1291.4" width="5.4" height="23.6" rx="1.5"/><rect x="686.1" y="1291.4" width="5.7" height="23.6" rx="1.5"/>
<path d="M680.9 1287V1291.4M686.1 1287V1291.4M681.3 1292L682.6 1313.5M686 1292L684.8 1313.5M680.9 1313.5H686.1" stroke-width="1.2"/>
</g>
</svg>
</body>
</html>
